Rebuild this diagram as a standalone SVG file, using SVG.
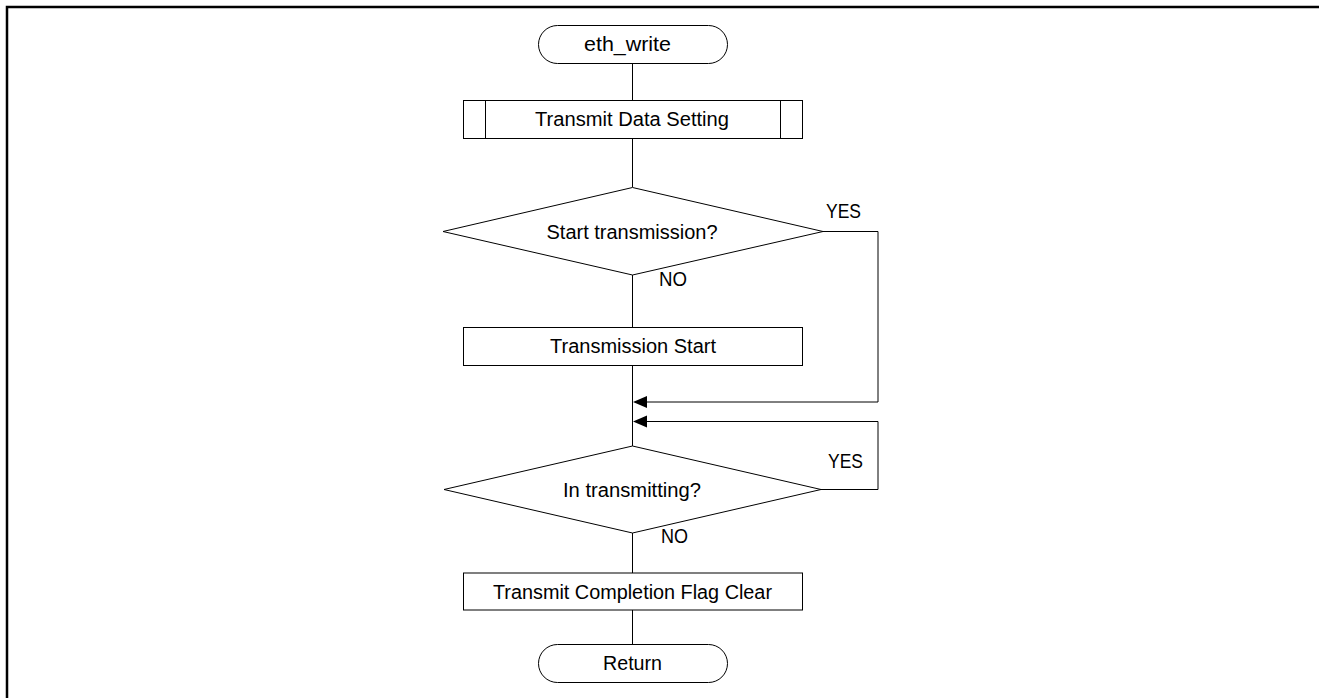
<svg xmlns="http://www.w3.org/2000/svg" width="1319" height="698" viewBox="0 0 1319 698">
<style>
.shape{fill:#fff;stroke:#000;stroke-width:1}
.ln{fill:none;stroke:#000;stroke-width:1}
.ah{fill:#000;stroke:none}
.t{font-family:"Liberation Sans",Arial,sans-serif;font-size:20px;fill:#000}
.c{text-anchor:middle}
</style>
<defs>
<path id="arrowhead" class="ah" d="M0,0 L14,-6 L14,6 Z"/>
</defs>
<rect width="1319" height="698" fill="#fff"/>
<path d="M7,698 V7 H1319" fill="none" stroke="#000" stroke-width="2.5"/>
<g id="connectors">
<path class="ln" d="M632.5,63 V100"/>
<path class="ln" d="M632.5,138 V187"/>
<path class="ln" d="M632.5,275 V327"/>
<path class="ln" d="M632.5,365 V446"/>
<path class="ln" d="M823,231.5 H878 V402 H645"/>
<path class="ln" d="M821,489.5 H878 V421.5 H645"/>
<use href="#arrowhead" x="633" y="402"/>
<use href="#arrowhead" x="633" y="421.5"/>
<path class="ln" d="M632.5,533 V573"/>
<path class="ln" d="M632.5,610 V644"/>
<text class="t" x="826" y="218" textLength="35" lengthAdjust="spacingAndGlyphs">YES</text>
<text class="t" x="659" y="286" textLength="28" lengthAdjust="spacingAndGlyphs">NO</text>
<text class="t" x="828" y="468" textLength="35" lengthAdjust="spacingAndGlyphs">YES</text>
<text class="t" x="661" y="543" textLength="27" lengthAdjust="spacingAndGlyphs">NO</text>
</g>
<g id="start">
<rect class="shape" x="538.5" y="25.5" width="189" height="38" rx="19" ry="19"/>
<text class="t" x="584" y="51" textLength="87" lengthAdjust="spacingAndGlyphs">eth_write</text>
</g>
<g id="transmit-data-setting">
<rect class="shape" x="463.5" y="100.5" width="339" height="38"/>
<path class="ln" d="M485.5,100.5 V138.5 M780.5,100.5 V138.5"/>
<text class="t c" x="632" y="126" textLength="194" lengthAdjust="spacingAndGlyphs">Transmit Data Setting</text>
</g>
<g id="start-transmission">
<polygon class="shape" points="632.5,187.5 823,231.5 632.5,275 443,231.5"/>
<text class="t c" x="632" y="239" textLength="171" lengthAdjust="spacingAndGlyphs">Start transmission?</text>
</g>
<g id="transmission-start">
<rect class="shape" x="463.5" y="327.5" width="339" height="38"/>
<text class="t c" x="633" y="353" textLength="166" lengthAdjust="spacingAndGlyphs">Transmission Start</text>
</g>
<g id="in-transmitting">
<polygon class="shape" points="632.5,446 821,489.5 632.5,533 444,489.5"/>
<text class="t c" x="632" y="496.5" textLength="138" lengthAdjust="spacingAndGlyphs">In transmitting?</text>
</g>
<g id="flag-clear">
<rect class="shape" x="463.5" y="573" width="339" height="37"/>
<text class="t c" x="632.5" y="598.5" textLength="279" lengthAdjust="spacingAndGlyphs">Transmit Completion Flag Clear</text>
</g>
<g id="return">
<rect class="shape" x="538.5" y="644.5" width="189" height="38" rx="19" ry="19"/>
<text class="t c" x="632.5" y="670" textLength="59" lengthAdjust="spacingAndGlyphs">Return</text>
</g>
</svg>
